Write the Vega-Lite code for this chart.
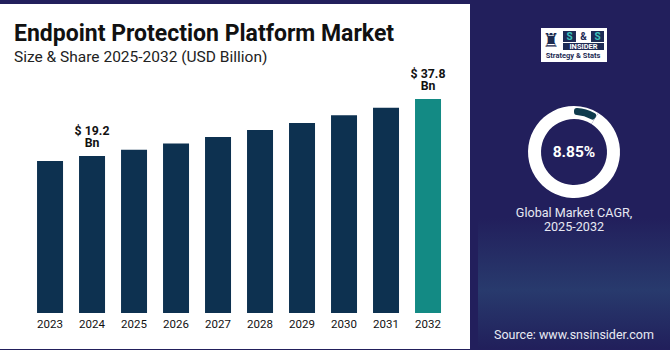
{
  "$schema": "https://vega.github.io/schema/vega-lite/v6.json",
  "background": "#221f5c",
  "padding": {"left": 0, "top": 4, "right": 0, "bottom": 1},
  "config": {"view": {"stroke": null}, "font": "Roboto"},
  "spacing": 8,
  "hconcat": [
    {
      "width": 470,
      "height": 345,
      "view": {"fill": "white", "stroke": null},
      "title": {
        "text": "Endpoint Protection Platform Market",
        "subtitle": "Size & Share 2025-2032 (USD Billion)",
        "anchor": "start",
        "frame": "group",
        "dx": 14,
        "offset": -61,
        "font": "Roboto",
        "fontSize": 23,
        "fontWeight": "bold",
        "color": "#111111",
        "subtitleFont": "Roboto",
        "subtitleFontSize": 15.5,
        "subtitleColor": "#222222",
        "subtitlePadding": 4
      },
      "data": {
        "values": [
          {"year": "2023", "value": 17.6},
          {"year": "2024", "value": 19.2},
          {"year": "2025", "value": 21.3},
          {"year": "2026", "value": 23.3},
          {"year": "2027", "value": 25.4},
          {"year": "2028", "value": 27.7},
          {"year": "2029", "value": 30.0},
          {"year": "2030", "value": 32.5},
          {"year": "2031", "value": 35.0},
          {"year": "2032", "value": 37.8}
        ]
      },
      "layer": [
        {
          "mark": {"type": "bar"},
          "encoding": {
            "x": {
              "field": "year",
              "type": "ordinal",
              "scale": {"paddingInner": 0.381, "paddingOuter": 0.786, "align": 0.561},
              "axis": {
                "title": null,
                "domain": false,
                "ticks": false,
                "tickSize": 0,
                "labelAngle": 0,
                "offset": -36,
                "labelPadding": 5,
                "labelFont": "Roboto",
                "labelFontSize": 11.5,
                "labelColor": "#111111"
              }
            },
            "y": {
              "field": "value",
              "type": "quantitative",
              "scale": {"domain": [-43.75, 68.83], "zero": false, "nice": false},
              "axis": null
            },
            "y2": {"datum": -32},
            "color": {
              "condition": {"test": "datum.year === '2032'", "value": "#138a84"},
              "value": "#0d3150"
            }
          }
        },
        {
          "transform": [
            {"filter": "datum.year === '2024' || datum.year === '2032'"},
            {"calculate": "'$ ' + format(datum.value, '.1f')", "as": "label"}
          ],
          "mark": {
            "type": "text",
            "baseline": "bottom",
            "dy": -18.5,
            "font": "Roboto",
            "fontWeight": "bold",
            "fontSize": 12.3,
            "color": "#111111"
          },
          "encoding": {
            "x": {"field": "year", "type": "ordinal"},
            "y": {"field": "value", "type": "quantitative"},
            "text": {"field": "label"}
          }
        },
        {
          "transform": [
            {"filter": "datum.year === '2024' || datum.year === '2032'"}
          ],
          "mark": {
            "type": "text",
            "baseline": "bottom",
            "dy": -5.8,
            "font": "Roboto",
            "fontWeight": "bold",
            "fontSize": 12.3,
            "color": "#111111"
          },
          "encoding": {
            "x": {"field": "year", "type": "ordinal"},
            "y": {"field": "value", "type": "quantitative"},
            "text": {"value": "Bn"}
          }
        }
      ]
    },
    {
      "spacing": 0,
      "bounds": "flush",
      "vconcat": [
        {
          "width": 192,
          "height": 82,
          "data": {"values": [{}]},
          "layer": [
            {"mark": {"type": "point", "shape": "M-1,-0.515L1,-0.515L1,0.515L-1,0.515Z", "size": 4356, "filled": true, "fill": "white", "opacity": 1, "strokeWidth": 0}, "encoding": {}},
            {"mark": {"type": "point", "shape": "M-0.333,-0.424L0.06,-0.424L0.06,-0.091L-0.333,-0.091Z M0.515,-0.424L0.909,-0.424L0.909,-0.091L0.515,-0.091Z M-0.333,-0.06L0.909,-0.06L0.909,0.152L-0.333,0.152Z", "size": 4356, "filled": true, "fill": "#1d2b55", "opacity": 1, "strokeWidth": 0}, "encoding": {}},
            {"mark": {"type": "text", "font": "DejaVu Sans", "fontSize": 19, "color": "#1d2b50", "dx": -23, "dy": -4, "baseline": "middle"}, "encoding": {"text": {"value": "♜"}}},
            {"mark": {"type": "text", "font": "Roboto", "fontWeight": "bold", "fontSize": 10, "color": "#3cc2bd", "dx": -4.5, "dy": -8.5, "baseline": "middle"}, "encoding": {"text": {"value": "S"}}},
            {"mark": {"type": "text", "font": "Roboto", "fontWeight": "bold", "fontSize": 10, "color": "#1d2b55", "dx": 9.5, "dy": -8.5, "baseline": "middle"}, "encoding": {"text": {"value": "&"}}},
            {"mark": {"type": "text", "font": "Roboto", "fontWeight": "bold", "fontSize": 10, "color": "#3cc2bd", "dx": 23.5, "dy": -8.5, "baseline": "middle"}, "encoding": {"text": {"value": "S"}}},
            {"mark": {"type": "text", "font": "Roboto", "fontWeight": "bold", "fontSize": 7.5, "color": "white", "dx": 9.5, "dy": 1.5, "baseline": "middle", "letterSpacing": 0.3}, "encoding": {"text": {"value": "INSIDER"}}},
            {"mark": {"type": "text", "font": "Roboto", "fontWeight": "bold", "fontSize": 7.5, "color": "#1d2b55", "dx": -1, "dy": 11, "baseline": "middle"}, "encoding": {"text": {"value": "Strategy & Stats"}}}
          ]
        },
        {
          "width": 192,
          "height": 132,
          "data": {"values": [{"segment": "CAGR", "value": 8.85}, {"segment": "Rest", "value": 91.15}]},
          "layer": [
            {
              "mark": {"type": "arc", "outerRadius": 46, "innerRadius": 33, "color": "white"},
              "encoding": {"theta": {"field": "value", "type": "quantitative"}}
            },
            {
              "mark": {"type": "arc", "outerRadius": 44, "innerRadius": 37, "cornerRadius": 3},
              "encoding": {
                "theta": {"field": "value", "type": "quantitative"},
                "color": {
                  "field": "segment",
                  "type": "nominal",
                  "scale": {"domain": ["CAGR", "Rest"], "range": ["#0f3b4c", "rgba(0,0,0,0)"]},
                  "legend": null
                }
              }
            },
            {
              "transform": [
                {"filter": "datum.segment === 'CAGR'"},
                {"calculate": "format(datum.value, '.2f') + '%'", "as": "pct"}
              ],
              "mark": {"type": "text", "font": "Roboto", "fontWeight": "bold", "fontSize": 15.5, "color": "white", "baseline": "middle"},
              "encoding": {"text": {"field": "pct"}}
            }
          ]
        },
        {
          "width": 192,
          "height": 131,
          "view": {
            "fill": {
              "gradient": "linear", "x1": 0, "y1": 0, "x2": 0, "y2": 1,
              "stops": [
                {"offset": 0, "color": "#221f5c"},
                {"offset": 0.55, "color": "#283a6d"},
                {"offset": 1, "color": "#211f5b"}
              ]
            },
            "stroke": null
          },
          "data": {"values": [{}]},
          "layer": [
            {"mark": {"type": "text", "font": "Roboto", "fontSize": 12.6, "color": "#e6e8f2", "baseline": "middle", "dy": -71}, "encoding": {"text": {"value": "Global Market CAGR,"}}},
            {"mark": {"type": "text", "font": "Roboto", "fontSize": 12.6, "color": "#e6e8f2", "baseline": "middle", "dy": -56.5}, "encoding": {"text": {"value": "2025-2032"}}},
            {"mark": {"type": "text", "font": "Roboto", "fontSize": 12.5, "color": "#e8eaf3", "letterSpacing": -0.3, "baseline": "middle", "dy": 51}, "encoding": {"text": {"value": "Source: www.snsinsider.com"}}}
          ]
        }
      ]
    }
  ]
}
